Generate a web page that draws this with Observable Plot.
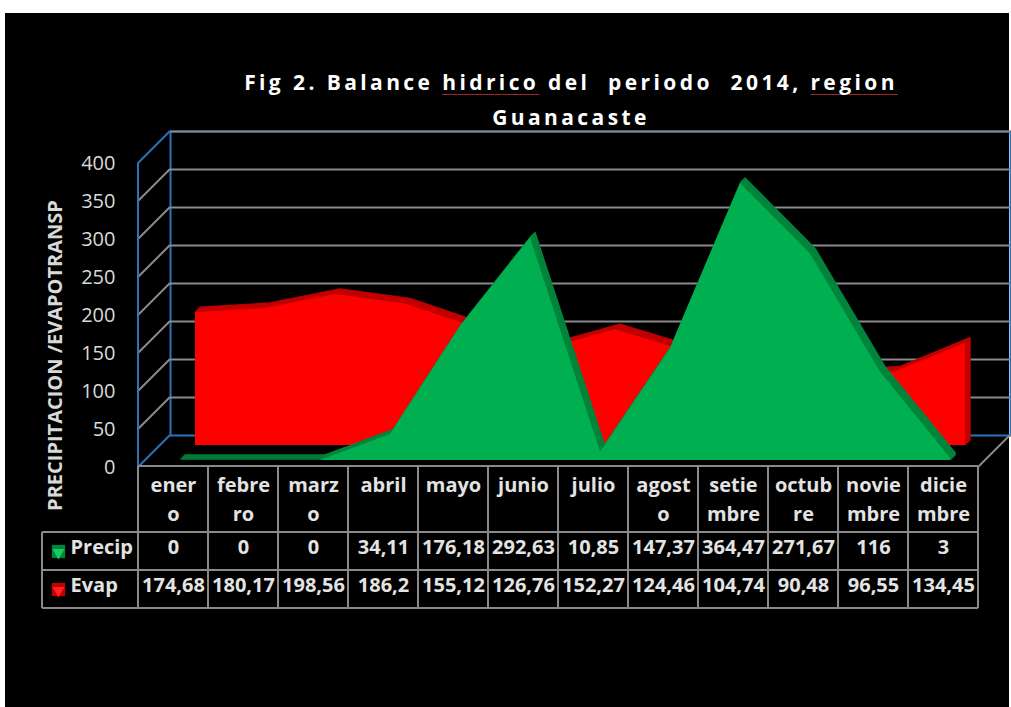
<!DOCTYPE html>
<html>
<head>
<meta charset="utf-8">
<script src="https://cdn.jsdelivr.net/npm/d3@7"></script>
<script src="https://cdn.jsdelivr.net/npm/@observablehq/plot@0.6"></script>
<style>
  html, body { margin: 0; padding: 0; background: #fff; }
  body { width: 1011px; height: 707px; overflow: hidden; position: relative; font-family: "Open Sans", sans-serif; }
  #bg { position: absolute; left: 5px; top: 13px; width: 1004px; height: 694px; background: #000; }
  #title { position: absolute; left: 171px; width: 800px; top: 65px; text-align: center; color: #fff;
           font-weight: bold; font-size: 21px; letter-spacing: 3.4px; line-height: 35px; white-space: pre; }
  #title .sp { text-decoration: underline; text-decoration-color: #9a2a2a; text-decoration-thickness: 1px; text-underline-offset: 4px; }
  #chart { position: absolute; left: 0; top: 0; }
</style>
</head>
<body>
<div id="bg"></div>
<div id="title">Fig 2. Balance <span class="sp">hidrico</span> del  periodo  2014, <span class="sp">region</span>
Guanacaste</div>
<div id="chart"></div>
<script>
// ---- data ----
const months = ["enero","febrero","marzo","abril","mayo","junio","julio","agosto","setiembre","octubre","noviembre","diciembre"];
const headerLine1 = ["ener","febre","marz","abril","mayo","junio","julio","agost","setie","octub","novie","dicie"];
const headerLine2 = ["o","ro","o","","","","","o","mbre","re","mbre","mbre"];
const precip = [0, 0, 0, 34.11, 176.18, 292.63, 10.85, 147.37, 364.47, 271.67, 116, 3];
const evap = [174.68, 180.17, 198.56, 186.2, 155.12, 126.76, 152.27, 124.46, 104.74, 90.48, 96.55, 134.45];
const yTicks = [0, 50, 100, 150, 200, 250, 300, 350, 400];
const seriesNames = ["Precip", "Evap"];
const yTitle = "PRECIPITACION /EVAPOTRANSP";

const data = months.map((m, i) => ({m, h1: headerLine1[i], h2: headerLine2[i], precip: precip[i], evap: evap[i]}));
const fmt = v => String(v).replace(".", ",");

// ---- styling ----
const RED = "#ff0000", RED_DARK = "#c00000";
const GREEN = "#00b050", GREEN_DARK = "#00843c";
const GRID = "#8a8a8a", BLUE = "#2e72b8", TXT = "#e3e3e3";
const WALL = 32; // depth of the back wall
const redDepth = 22, greenDepth = 7, ext = [1, 2, 3, 4, 5];

const marks = [];
// back wall
marks.push(Plot.frame({dx: WALL, dy: -WALL, stroke: BLUE, strokeWidth: 2}));
marks.push(Plot.ruleY(yTicks.filter(t => t > 0), {dx: WALL, dy: -WALL, stroke: GRID, strokeWidth: 2}));
// Evap series (back row) with extrusion
for (const d of ext) {
  marks.push(Plot.areaY(data, {x: "m", y: "evap", fill: RED_DARK, stroke: RED_DARK, strokeWidth: 1.5, dx: redDepth + d, dy: -redDepth - d}));
}
marks.push(Plot.areaY(data, {x: "m", y: "evap", fill: RED, dx: redDepth, dy: -redDepth}));
// Precip series (front row) with extrusion
for (const d of ext) {
  marks.push(Plot.areaY(data, {x: "m", y: "precip", fill: GREEN_DARK, stroke: GREEN_DARK, strokeWidth: 1.5, dx: greenDepth + d, dy: -greenDepth - d}));
}
marks.push(Plot.areaY(data, {x: "m", y: "precip", fill: GREEN, dx: greenDepth, dy: -greenDepth}));
// y axis
marks.push(Plot.axisY(yTicks, {tickSize: 0, tickPadding: 23, label: null, fontSize: 20, fill: "#d9d9d9"}));
marks.push(Plot.text([yTitle], {frameAnchor: "left", textAnchor: "middle", rotate: -90, dx: -83, dy: 40, fontSize: 20, fontWeight: "bold", fill: "#d9d9d9"}));
// data table texts
const tstyle = {x: "m", frameAnchor: "bottom", fontSize: 20, fontWeight: "bold", fill: TXT};
marks.push(Plot.text(data, {...tstyle, text: "h1", dy: 24.5}));
marks.push(Plot.text(data, {...tstyle, text: "h2", dy: 53.5}));
marks.push(Plot.text(data, {...tstyle, text: d => fmt(d.precip), dy: 86.5}));
marks.push(Plot.text(data, {...tstyle, text: d => fmt(d.evap), dy: 124}));
// legend inside the table
marks.push(Plot.text([seriesNames[0]], {frameAnchor: "bottom-left", dx: -68, dy: 86.5, textAnchor: "start", fontSize: 20, fontWeight: "bold", fill: TXT}));
marks.push(Plot.text([seriesNames[1]], {frameAnchor: "bottom-left", dx: -68, dy: 124, textAnchor: "start", fontSize: 20, fontWeight: "bold", fill: TXT}));
marks.push(Plot.dot([0], {frameAnchor: "bottom-left", dx: -80, dy: 84, symbol: "square", r: 7.5, fill: GREEN_DARK}));
marks.push(Plot.dot([0], {frameAnchor: "bottom-left", dx: -80, dy: 85, symbol: "triangle", rotate: 180, r: 4.5, fill: "#18c860"}));
marks.push(Plot.dot([0], {frameAnchor: "bottom-left", dx: -80, dy: 122, symbol: "square", r: 7.5, fill: "#c00000"}));
marks.push(Plot.dot([0], {frameAnchor: "bottom-left", dx: -80, dy: 123, symbol: "triangle", rotate: 180, r: 4.5, fill: "#ff2020"}));

const chart = Plot.plot({
  width: 1011,
  height: 707,
  marginLeft: 138,
  marginRight: 33,
  marginTop: 163,
  marginBottom: 240,
  x: {type: "point", domain: months, padding: 0.5, axis: null},
  y: {domain: [0, 400], axis: null},
  style: {background: "transparent", color: "#d9d9d9", fontFamily: "Open Sans, sans-serif", fontSize: "20px", overflow: "visible"},
  marks
});
document.getElementById("chart").appendChild(chart);

// ---- 3D wall edges and table grid, placed with the plot's own scales ----
const xs = chart.scale("x"), ys = chart.scale("y");
const svg = d3.select(chart);
const g = svg.append("g").attr("fill", "none");
const x0 = xs.range[0], x1 = xs.range[1];
const seg = (xa, ya, xb, yb, c, w = 2) => g.append("line").attr("x1", xa).attr("y1", ya).attr("x2", xb).attr("y2", yb).attr("stroke", c).attr("stroke-width", w);
// left side wall
for (const t of yTicks) {
  const yy = ys.apply(t);
  seg(x0, yy, x0 + WALL, yy - WALL, (t === 0 || t === yTicks[yTicks.length - 1]) ? BLUE : GRID);
}
seg(x0, ys.apply(0), x0, ys.apply(yTicks[yTicks.length - 1]), BLUE);
// floor right edge
seg(x1, ys.apply(0), x1 + WALL, ys.apply(0) - WALL, GRID);
// table grid
const step = xs.apply(months[1]) - xs.apply(months[0]);
const tableTop = ys.apply(0) - 1;
const rowY = [tableTop, tableTop + 66, tableTop + 104, tableTop + 142];
const legendLeft = x0 - 96;
seg(x0, rowY[0], x1, rowY[0], GRID);
for (let r = 1; r < rowY.length; r++) seg(legendLeft, rowY[r], x1, rowY[r], GRID);
seg(legendLeft, rowY[1], legendLeft, rowY[3], GRID);
const bounds = months.map(m => xs.apply(m) - step / 2).concat([xs.apply(months[months.length - 1]) + step / 2]);
for (const bx of bounds) seg(bx, rowY[0], bx, rowY[3], GRID);
</script>
</body>
</html>
